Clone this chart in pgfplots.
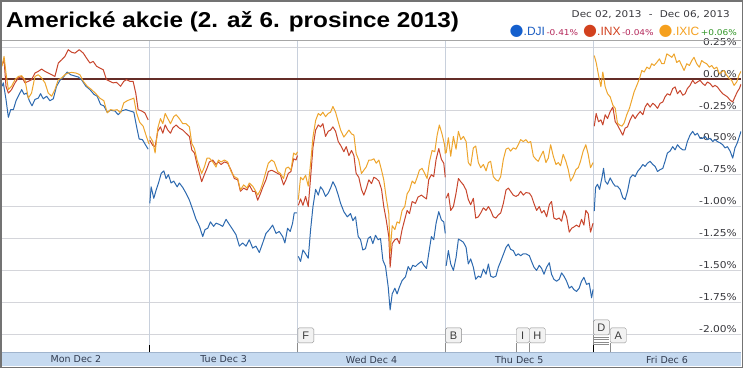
\documentclass[border=0pt]{standalone}
\usepackage{fontspec}
\usepackage{pgfplots}
\pgfplotsset{compat=1.18}
\setmainfont{Liberation Sans}
\newfontfamily\lib{Liberation Sans}
\newfontfamily\djv{DejaVu Sans}
\newfontfamily\djvw{DejaVu Sans}[FakeStretch=1.12]
\newfontfamily\titlefont{Liberation Sans}[FakeStretch=1.13]
\definecolor{djic}{RGB}{45,105,175}
\definecolor{inxc}{RGB}{200,70,45}
\definecolor{ixicc}{RGB}{238,165,45}
\definecolor{gridc}{RGB}{212,213,218}
\definecolor{vgridc}{RGB}{200,208,220}
\definecolor{zeroc}{RGB}{100,45,40}
\definecolor{bandc}{RGB}{198,218,240}
\definecolor{bandline}{RGB}{160,180,205}
\definecolor{framec}{RGB}{115,115,115}
\definecolor{labc}{RGB}{55,55,60}
\definecolor{xlabc}{RGB}{50,60,80}
\definecolor{dotblue}{RGB}{20,95,205}
\definecolor{txtblue}{RGB}{30,95,195}
\definecolor{txtred}{RGB}{210,65,30}
\definecolor{txtorange}{RGB}{245,160,30}
\definecolor{pctred}{RGB}{180,40,90}
\definecolor{pctgreen}{RGB}{50,150,40}
\definecolor{flagc}{RGB}{140,140,140}
\definecolor{flagt}{RGB}{60,60,60}
\definecolor{flagfill}{RGB}{242,242,242}
\tikzset{flagbox/.style={draw=flagc, fill=flagfill, rounded corners=1.5pt, inner sep=0pt, minimum height=15pt, text=flagt, font=\lib\fontsize{11}{11}\selectfont},
flagline/.style={draw=flagc, line width=0.8pt}}
\begin{document}
\begin{tikzpicture}
\path[use as bounding box] (-2pt,-16pt) rectangle (741pt,352pt);
\fill[white] (-2pt,-16pt) rectangle (741pt,352pt);
\fill[bandc] (0pt,-14pt) rectangle (739pt,0pt);
\draw[bandline, line width=0.8pt] (0pt,0pt) -- (739pt,0pt);
\begin{axis}[
  at={(0pt,0pt)}, anchor=south west,
  scale only axis, width=739pt, height=312pt,
  xmin=0, xmax=5, ymin=-2.14, ymax=0.306,
  axis line style={draw=none},
  major tick length=0pt,
  xtick={0.5,1.5,2.5,3.5,4.5},
  xticklabels={Mon Dec 2,Tue Dec 3,Wed Dec 4,Thu Dec 5,Fri Dec 6},
  xticklabel style={font=\djv\fontsize{9.5}{10}\selectfont, text=xlabc, anchor=center, yshift=-7.5pt},
  extra x ticks={1,2,3,4}, extra x tick labels={},
  extra x tick style={grid=major, major grid style={vgridc, line width=0.9pt}},
  ytick={-2,-1.75,-1.5,-1.25,-1,-0.75,-0.5,-0.25,0,0.25},
  yticklabels={-2.00\%,-1.75\%,-1.50\%,-1.25\%,-1.00\%,-0.75\%,-0.50\%,-0.25\%,0.00\%,0.25\%},
  ymajorgrids, major grid style={gridc, line width=0.9pt},
  yticklabel pos=right,
  yticklabel style={font=\djvw\fontsize{9.5}{10}\selectfont, text=labc, anchor=south east, inner sep=0pt, xshift=-4pt, yshift=1.5pt},
  clip mode=individual,
  unbounded coords=jump,
  every axis plot/.append style={line width=1pt, line join=round},
]
\draw[zeroc, line width=1.4pt] (axis cs:0,0) -- (axis cs:5,0);
% .DJI
\addplot[djic] coordinates {
(0.000,-0.057) (0.009,-0.030) (0.027,-0.160) (0.043,-0.300) (0.059,-0.240) (0.077,-0.240) (0.095,-0.170) (0.110,-0.135) (0.133,-0.083) (0.149,-0.120) (0.167,-0.110) (0.185,-0.170) (0.203,-0.210) (0.223,-0.160) (0.245,-0.150) (0.261,-0.115) (0.279,-0.155) (0.302,-0.135) (0.324,-0.170) (0.347,-0.155) (0.369,-0.057) (0.392,-0.010) (0.419,0.020) (0.441,0.055) (0.464,0.034) (0.486,0.026) (0.516,0.016) (0.538,-0.005) (0.568,-0.057) (0.595,-0.083) (0.622,-0.120) (0.644,-0.135) (0.667,-0.200) (0.689,-0.210) (0.712,-0.260) (0.734,-0.245) (0.764,-0.250) (0.786,-0.280) (0.809,-0.250) (0.838,-0.240) (0.865,-0.250) (0.892,-0.260) (0.910,-0.370) (0.928,-0.470) (0.950,-0.475) (0.973,-0.520) (0.989,-0.550)
(0.999,nan)
(1.000,-0.975) (1.009,-0.845) (1.027,-0.935) (1.043,-0.870) (1.059,-0.815) (1.077,-0.740) (1.095,-0.720) (1.110,-0.780) (1.126,-0.750) (1.144,-0.815) (1.162,-0.800) (1.185,-0.845) (1.200,-0.815) (1.223,-0.850) (1.245,-0.895) (1.268,-0.950) (1.291,-1.025) (1.313,-1.100) (1.336,-1.155) (1.358,-1.235) (1.374,-1.180) (1.392,-1.170) (1.410,-1.120) (1.432,-1.155) (1.448,-1.130) (1.471,-1.140) (1.493,-1.155) (1.516,-1.100) (1.538,-1.140) (1.561,-1.180) (1.583,-1.220) (1.606,-1.310) (1.628,-1.285) (1.651,-1.310) (1.673,-1.260) (1.696,-1.325) (1.718,-1.310) (1.741,-1.360) (1.764,-1.285) (1.786,-1.210) (1.809,-1.180) (1.831,-1.145) (1.854,-1.210) (1.876,-1.195) (1.899,-1.235) (1.914,-1.285) (1.932,-1.170) (1.950,-1.195) (1.966,-1.130) (1.977,-1.050) (1.995,-1.050)
(2.000,nan)
(2.005,-1.390) (2.020,-1.430) (2.036,-1.340) (2.054,-1.370) (2.072,-1.405) (2.088,-1.180) (2.104,-1.000) (2.122,-0.865) (2.140,-0.910) (2.155,-0.845) (2.171,-0.870) (2.189,-0.920) (2.207,-0.895) (2.223,-0.855) (2.239,-0.805) (2.257,-0.845) (2.275,-0.910) (2.291,-0.975) (2.313,-1.040) (2.336,-1.080) (2.358,-1.055) (2.374,-1.110) (2.392,-1.080) (2.410,-1.235) (2.426,-1.260) (2.441,-1.340) (2.459,-1.330) (2.477,-1.250) (2.493,-1.235) (2.509,-1.290) (2.527,-1.225) (2.545,-1.260) (2.561,-1.250) (2.577,-1.420) (2.595,-1.470) (2.613,-1.630) (2.626,-1.810) (2.640,-1.685) (2.658,-1.640) (2.673,-1.685) (2.689,-1.630) (2.707,-1.580) (2.730,-1.550) (2.748,-1.470) (2.764,-1.500) (2.779,-1.460) (2.797,-1.470) (2.815,-1.450) (2.838,-1.430) (2.854,-1.460) (2.872,-1.485) (2.887,-1.370) (2.905,-1.235) (2.921,-1.260) (2.937,-1.130) (2.955,-1.040) (2.973,-1.105) (2.989,-1.120) (2.999,-1.210)
(3.001,nan)
(3.005,-1.465) (3.020,-1.345) (3.036,-1.450) (3.054,-1.500) (3.072,-1.400) (3.088,-1.255) (3.104,-1.265) (3.122,-1.280) (3.140,-1.320) (3.155,-1.450) (3.171,-1.410) (3.189,-1.475) (3.205,-1.570) (3.223,-1.545) (3.239,-1.555) (3.257,-1.490) (3.275,-1.530) (3.291,-1.450) (3.306,-1.545) (3.324,-1.555) (3.342,-1.545) (3.358,-1.475) (3.374,-1.430) (3.392,-1.375) (3.410,-1.320) (3.426,-1.295) (3.441,-1.335) (3.459,-1.345) (3.477,-1.385) (3.493,-1.370) (3.509,-1.385) (3.527,-1.370) (3.545,-1.370) (3.568,-1.385) (3.583,-1.430) (3.599,-1.475) (3.617,-1.500) (3.635,-1.460) (3.651,-1.485) (3.667,-1.530) (3.685,-1.475) (3.703,-1.440) (3.718,-1.530) (3.734,-1.570) (3.752,-1.585) (3.770,-1.570) (3.786,-1.520) (3.802,-1.545) (3.820,-1.585) (3.838,-1.640) (3.854,-1.625) (3.869,-1.650) (3.887,-1.665) (3.905,-1.640) (3.921,-1.585) (3.937,-1.555) (3.955,-1.610) (3.973,-1.600) (3.989,-1.715) (3.999,-1.650)
(4.002,nan)
(4.007,-1.035) (4.016,-0.850) (4.029,-0.825) (4.043,-0.865) (4.059,-0.775) (4.070,-0.700) (4.081,-0.800) (4.097,-0.825) (4.115,-0.775) (4.133,-0.815) (4.149,-0.840) (4.164,-0.840) (4.182,-0.865) (4.200,-0.930) (4.216,-0.945) (4.232,-0.880) (4.250,-0.775) (4.268,-0.750) (4.284,-0.765) (4.300,-0.725) (4.318,-0.700) (4.336,-0.670) (4.351,-0.685) (4.367,-0.660) (4.385,-0.645) (4.403,-0.670) (4.419,-0.685) (4.435,-0.725) (4.453,-0.710) (4.471,-0.700) (4.486,-0.645) (4.502,-0.580) (4.520,-0.565) (4.538,-0.530) (4.554,-0.555) (4.570,-0.515) (4.588,-0.540) (4.606,-0.555) (4.622,-0.555) (4.637,-0.490) (4.655,-0.440) (4.673,-0.410) (4.689,-0.440) (4.705,-0.425) (4.723,-0.465) (4.741,-0.465) (4.757,-0.450) (4.773,-0.475) (4.791,-0.465) (4.809,-0.490) (4.824,-0.475) (4.840,-0.490) (4.858,-0.500) (4.876,-0.515) (4.892,-0.540) (4.908,-0.530) (4.926,-0.565) (4.944,-0.620) (4.959,-0.540) (4.975,-0.500) (4.989,-0.450) (5.000,-0.410)
};
% .INX
\addplot[inxc] coordinates {
(0.000,0.110) (0.014,0.150) (0.027,-0.057) (0.043,-0.110) (0.065,-0.083) (0.088,-0.030) (0.110,0.008) (0.133,0.020) (0.155,-0.030) (0.178,-0.018) (0.200,-0.005) (0.223,0.047) (0.245,0.060) (0.268,0.078) (0.291,0.060) (0.313,0.047) (0.336,0.034) (0.358,0.020) (0.381,0.125) (0.403,0.150) (0.426,0.177) (0.448,0.230) (0.471,0.210) (0.493,0.203) (0.523,0.230) (0.550,0.203) (0.572,0.164) (0.595,0.125) (0.617,0.138) (0.640,0.100) (0.662,0.086) (0.685,0.073) (0.707,-0.005) (0.730,-0.018) (0.752,-0.030) (0.775,-0.026) (0.802,-0.057) (0.824,-0.018) (0.842,-0.005) (0.865,-0.018) (0.887,-0.018) (0.905,-0.110) (0.921,-0.240) (0.944,-0.250) (0.966,-0.265) (0.989,-0.320)
(0.999,nan)
(1.000,-0.480) (1.020,-0.520) (1.036,-0.530) (1.054,-0.410) (1.072,-0.375) (1.088,-0.425) (1.104,-0.360) (1.122,-0.400) (1.140,-0.425) (1.155,-0.385) (1.178,-0.360) (1.200,-0.385) (1.223,-0.400) (1.245,-0.425) (1.268,-0.450) (1.284,-0.555) (1.302,-0.580) (1.320,-0.670) (1.336,-0.740) (1.351,-0.805) (1.369,-0.750) (1.387,-0.700) (1.403,-0.650) (1.426,-0.635) (1.448,-0.670) (1.464,-0.650) (1.482,-0.670) (1.505,-0.650) (1.527,-0.660) (1.550,-0.715) (1.572,-0.780) (1.595,-0.790) (1.613,-0.880) (1.635,-0.855) (1.658,-0.870) (1.673,-0.830) (1.696,-0.880) (1.712,-0.880) (1.730,-0.950) (1.748,-0.900) (1.764,-0.850) (1.786,-0.790) (1.802,-0.725) (1.824,-0.715) (1.842,-0.725) (1.865,-0.740) (1.883,-0.750) (1.905,-0.830) (1.921,-0.790) (1.937,-0.740) (1.955,-0.725) (1.973,-0.625) (1.989,-0.635) (1.999,-0.600)
(2.001,nan)
(2.005,-0.990) (2.020,-0.940) (2.036,-0.990) (2.054,-0.920) (2.072,-1.000) (2.088,-0.770) (2.104,-0.535) (2.122,-0.400) (2.140,-0.360) (2.155,-0.375) (2.171,-0.350) (2.189,-0.450) (2.207,-0.410) (2.223,-0.400) (2.239,-0.375) (2.257,-0.410) (2.275,-0.490) (2.291,-0.520) (2.313,-0.570) (2.329,-0.530) (2.347,-0.600) (2.365,-0.560) (2.381,-0.600) (2.396,-0.740) (2.414,-0.770) (2.432,-0.865) (2.448,-0.910) (2.464,-0.860) (2.482,-0.790) (2.500,-0.820) (2.516,-0.770) (2.532,-0.780) (2.550,-0.800) (2.568,-0.865) (2.583,-1.000) (2.599,-1.100) (2.617,-1.235) (2.626,-1.475) (2.640,-1.290) (2.658,-1.260) (2.673,-1.250) (2.689,-1.290) (2.707,-1.180) (2.725,-1.100) (2.741,-1.030) (2.757,-1.055) (2.775,-0.960) (2.797,-0.975) (2.815,-0.925) (2.838,-0.910) (2.854,-0.925) (2.872,-0.940) (2.887,-0.790) (2.905,-0.750) (2.921,-0.765) (2.937,-0.630) (2.955,-0.545) (2.973,-0.630) (2.989,-0.660) (2.999,-0.770)
(3.001,nan)
(3.005,-0.935) (3.020,-0.895) (3.036,-1.030) (3.054,-1.000) (3.072,-0.895) (3.088,-0.780) (3.104,-0.805) (3.122,-0.830) (3.140,-0.870) (3.155,-0.945) (3.171,-0.985) (3.189,-0.935) (3.205,-1.090) (3.223,-1.080) (3.239,-1.050) (3.257,-1.010) (3.275,-1.030) (3.291,-1.000) (3.306,-1.030) (3.324,-1.080) (3.342,-1.090) (3.358,-1.065) (3.374,-1.050) (3.392,-0.975) (3.410,-0.870) (3.426,-0.855) (3.441,-0.880) (3.459,-0.910) (3.477,-0.920) (3.493,-0.910) (3.509,-0.880) (3.527,-0.910) (3.545,-0.890) (3.568,-0.895) (3.583,-0.920) (3.599,-0.975) (3.617,-1.030) (3.635,-1.000) (3.651,-1.050) (3.667,-1.030) (3.685,-1.080) (3.703,-0.985) (3.718,-0.960) (3.734,-1.090) (3.752,-1.100) (3.770,-1.090) (3.786,-1.115) (3.802,-1.030) (3.820,-1.080) (3.838,-1.200) (3.854,-1.170) (3.869,-1.160) (3.887,-1.145) (3.905,-1.160) (3.921,-1.100) (3.937,-1.145) (3.950,-1.030) (3.966,-1.055) (3.982,-1.200) (3.999,-1.130)
(4.002,nan)
(4.007,-0.370) (4.020,-0.270) (4.036,-0.335) (4.052,-0.320) (4.065,-0.360) (4.081,-0.280) (4.097,-0.310) (4.115,-0.255) (4.133,-0.220) (4.149,-0.335) (4.164,-0.360) (4.182,-0.400) (4.200,-0.440) (4.216,-0.385) (4.232,-0.375) (4.250,-0.320) (4.268,-0.280) (4.284,-0.310) (4.300,-0.280) (4.318,-0.255) (4.336,-0.280) (4.351,-0.220) (4.367,-0.190) (4.385,-0.220) (4.403,-0.190) (4.419,-0.205) (4.435,-0.230) (4.453,-0.190) (4.471,-0.180) (4.486,-0.140) (4.502,-0.115) (4.520,-0.127) (4.538,-0.075) (4.554,-0.062) (4.570,-0.115) (4.588,-0.090) (4.606,-0.127) (4.622,-0.115) (4.637,-0.075) (4.655,-0.050) (4.673,-0.010) (4.689,-0.036) (4.705,-0.023) (4.723,-0.010) (4.741,-0.036) (4.757,-0.050) (4.773,-0.023) (4.791,-0.036) (4.809,-0.062) (4.824,-0.050) (4.840,-0.062) (4.858,-0.090) (4.876,-0.115) (4.892,-0.127) (4.908,-0.140) (4.926,-0.165) (4.944,-0.180) (4.959,-0.140) (4.975,-0.100) (4.989,-0.075) (5.000,-0.040)
};
% .IXIC
\addplot[ixicc] coordinates {
(0.000,0.100) (0.014,0.177) (0.027,0.047) (0.043,-0.083) (0.065,-0.057) (0.088,-0.005) (0.110,0.020) (0.133,0.026) (0.155,-0.005) (0.178,-0.150) (0.200,-0.110) (0.223,0.020) (0.245,0.034) (0.268,0.008) (0.291,-0.030) (0.313,-0.110) (0.336,-0.135) (0.358,-0.083) (0.381,-0.005) (0.403,0.008) (0.426,0.034) (0.448,0.047) (0.471,0.052) (0.500,0.047) (0.527,0.034) (0.550,-0.018) (0.577,-0.057) (0.606,-0.083) (0.635,-0.115) (0.662,-0.150) (0.689,-0.170) (0.712,-0.265) (0.734,-0.240) (0.757,-0.245) (0.779,-0.240) (0.802,-0.265) (0.824,-0.187) (0.847,-0.170) (0.869,-0.160) (0.892,-0.150) (0.910,-0.265) (0.932,-0.340) (0.955,-0.370) (0.977,-0.450) (0.995,-0.510)
(0.999,nan)
(1.000,-0.450) (1.020,-0.490) (1.036,-0.580) (1.054,-0.385) (1.072,-0.310) (1.088,-0.350) (1.104,-0.270) (1.122,-0.310) (1.140,-0.350) (1.162,-0.295) (1.178,-0.280) (1.200,-0.310) (1.223,-0.350) (1.245,-0.350) (1.268,-0.375) (1.284,-0.505) (1.302,-0.545) (1.320,-0.635) (1.336,-0.690) (1.351,-0.740) (1.369,-0.690) (1.387,-0.620) (1.403,-0.620) (1.426,-0.650) (1.448,-0.690) (1.464,-0.635) (1.482,-0.650) (1.505,-0.635) (1.527,-0.650) (1.550,-0.725) (1.572,-0.765) (1.595,-0.780) (1.613,-0.870) (1.635,-0.830) (1.658,-0.855) (1.673,-0.815) (1.696,-0.840) (1.712,-0.870) (1.730,-0.910) (1.748,-0.870) (1.764,-0.815) (1.786,-0.725) (1.802,-0.660) (1.824,-0.635) (1.842,-0.650) (1.865,-0.725) (1.883,-0.740) (1.905,-0.780) (1.921,-0.700) (1.937,-0.690) (1.955,-0.715) (1.973,-0.580) (1.989,-0.595) (1.999,-0.570)
(2.001,nan)
(2.005,-0.945) (2.020,-0.770) (2.036,-0.790) (2.054,-0.755) (2.072,-0.840) (2.088,-0.660) (2.104,-0.455) (2.122,-0.325) (2.140,-0.270) (2.155,-0.285) (2.171,-0.260) (2.189,-0.295) (2.207,-0.270) (2.223,-0.260) (2.239,-0.215) (2.257,-0.260) (2.275,-0.335) (2.291,-0.400) (2.313,-0.455) (2.329,-0.430) (2.347,-0.400) (2.365,-0.430) (2.381,-0.440) (2.396,-0.585) (2.414,-0.635) (2.432,-0.740) (2.448,-0.715) (2.464,-0.690) (2.482,-0.635) (2.500,-0.635) (2.516,-0.625) (2.532,-0.660) (2.550,-0.635) (2.568,-0.715) (2.583,-0.790) (2.599,-0.925) (2.617,-1.055) (2.626,-1.360) (2.640,-1.150) (2.658,-1.180) (2.673,-1.120) (2.689,-1.130) (2.707,-1.030) (2.725,-1.000) (2.741,-0.900) (2.757,-0.870) (2.775,-0.800) (2.793,-0.820) (2.809,-0.770) (2.824,-0.715) (2.842,-0.700) (2.860,-0.740) (2.876,-0.780) (2.892,-0.650) (2.910,-0.560) (2.928,-0.570) (2.944,-0.440) (2.959,-0.360) (2.977,-0.430) (2.995,-0.520) (2.999,-0.585)
(3.001,nan)
(3.005,-0.580) (3.020,-0.460) (3.036,-0.605) (3.054,-0.450) (3.072,-0.550) (3.088,-0.410) (3.104,-0.475) (3.122,-0.450) (3.140,-0.490) (3.155,-0.655) (3.171,-0.680) (3.189,-0.540) (3.205,-0.525) (3.223,-0.655) (3.239,-0.695) (3.257,-0.670) (3.275,-0.720) (3.291,-0.655) (3.306,-0.645) (3.324,-0.765) (3.342,-0.790) (3.358,-0.800) (3.374,-0.765) (3.392,-0.630) (3.410,-0.550) (3.426,-0.540) (3.441,-0.565) (3.459,-0.540) (3.477,-0.550) (3.493,-0.515) (3.509,-0.475) (3.527,-0.490) (3.545,-0.475) (3.561,-0.500) (3.577,-0.490) (3.595,-0.605) (3.613,-0.630) (3.628,-0.645) (3.644,-0.605) (3.662,-0.565) (3.680,-0.655) (3.696,-0.620) (3.712,-0.515) (3.730,-0.605) (3.748,-0.670) (3.764,-0.655) (3.779,-0.680) (3.797,-0.590) (3.815,-0.645) (3.831,-0.710) (3.847,-0.800) (3.865,-0.765) (3.883,-0.710) (3.899,-0.695) (3.914,-0.645) (3.932,-0.565) (3.950,-0.515) (3.966,-0.590) (3.982,-0.695) (3.999,-0.655)
(4.002,nan)
(4.007,0.184) (4.020,0.130) (4.036,0.030) (4.052,-0.060) (4.065,0.055) (4.081,-0.060) (4.097,-0.115) (4.115,-0.140) (4.133,-0.205) (4.149,-0.230) (4.164,-0.345) (4.178,-0.360) (4.194,-0.370) (4.209,-0.345) (4.227,-0.280) (4.245,-0.230) (4.261,-0.165) (4.277,-0.100) (4.295,-0.050) (4.313,0.003) (4.329,0.067) (4.345,0.055) (4.363,0.093) (4.381,0.080) (4.396,0.120) (4.412,0.106) (4.430,0.130) (4.448,0.158) (4.464,0.120) (4.480,0.120) (4.498,0.197) (4.516,0.184) (4.532,0.170) (4.547,0.197) (4.565,0.130) (4.583,0.145) (4.599,0.106) (4.615,0.067) (4.633,0.120) (4.651,0.106) (4.667,0.145) (4.682,0.170) (4.700,0.120) (4.718,0.093) (4.734,0.145) (4.750,0.130) (4.768,0.120) (4.786,0.093) (4.802,0.106) (4.818,0.080) (4.836,0.093) (4.854,0.040) (4.869,0.055) (4.885,0.067) (4.903,0.030) (4.921,0.003) (4.937,-0.010) (4.953,-0.050) (4.971,-0.023) (4.986,0.030) (5.000,0.060)
};
% event flags
\draw[flagline] (axis cs:2,-2.14) -- (axis cs:2,-2.070);
\node[flagbox, minimum width=16pt, anchor=south west] at (axis cs:2,-2.070) {F};
\draw[flagline] (axis cs:3,-2.14) -- (axis cs:3,-2.070);
\node[flagbox, minimum width=16pt, anchor=south west] at (axis cs:3,-2.070) {B};
\draw[flagline] (axis cs:3.478,-2.14) -- (axis cs:3.478,-2.070);
\node[flagbox, minimum width=13pt, anchor=south west] at (axis cs:3.478,-2.070) {I};
\draw[flagline] (axis cs:3.566,-2.14) -- (axis cs:3.566,-2.070);
\node[flagbox, minimum width=16pt, anchor=south west] at (axis cs:3.566,-2.070) {H};
\draw[flagline] (axis cs:4,-2.14) -- (axis cs:4,-2.007);
\draw[flagline] (axis cs:4,-2.023) -- ++(16pt,0pt);
\draw[flagline] (axis cs:4,-2.042) -- ++(16pt,0pt);
\draw[flagline] (axis cs:4,-2.062) -- ++(16pt,0pt);
\draw[flagline] (axis cs:4,-2.082) -- ++(16pt,0pt);
\node[flagbox, minimum width=16pt, anchor=south west] at (axis cs:4,-2.007) {D};
\draw[flagline] (axis cs:4.114,-2.14) -- (axis cs:4.114,-2.070);
\node[flagbox, minimum width=16pt, anchor=south west] at (axis cs:4.114,-2.070) {A};
\draw[black, line width=1pt] (axis cs:1,-2.14) -- ++(0pt,7pt);
\draw[black, line width=1pt] (axis cs:4,-2.14) -- ++(0pt,7pt);
\end{axis}
\draw[gray!70, line width=0.9pt] (0pt,312pt) -- (739pt,312pt);
% title
\node[anchor=base west, inner sep=0pt] at (4pt,325pt) {\titlefont\bfseries\fontsize{21.5}{24}\selectfont Americké akcie (2. až 6. prosince 2013)};
\node[anchor=base east, inner sep=0pt, text=labc] at (728pt,335pt) {\djvw\fontsize{9.3}{10}\selectfont Dec 02, 2013\hspace{4pt} - \hspace{4pt}Dec 06, 2013};
\node[anchor=base east, inner sep=0pt] at (735pt,317pt) {%
{\color{dotblue}\djv\fontsize{16}{16}\selectfont ●}%
{\color{txtblue}\lib\fontsize{12}{12}\selectfont .DJI}%
\hspace{1.5pt}{\color{pctred}\djvw\fontsize{8}{8}\selectfont -0.41\%}%
\hspace{5pt}{\color{txtred}\djv\fontsize{16}{16}\selectfont ●}%
{\color{txtred}\lib\fontsize{12}{12}\selectfont .INX}%
\hspace{1.5pt}{\color{pctred}\djvw\fontsize{8}{8}\selectfont -0.04\%}%
\hspace{5pt}{\color{txtorange}\djv\fontsize{16}{16}\selectfont ●}%
{\color{txtorange}\lib\fontsize{12}{12}\selectfont .IXIC}%
\hspace{1.5pt}{\color{pctgreen}\djvw\fontsize{8}{8}\selectfont +0.06\%}};
\draw[framec, line width=1.5pt] (-1.25pt,-15.25pt) rectangle (740.25pt,351.25pt);
\end{tikzpicture}
\end{document}
